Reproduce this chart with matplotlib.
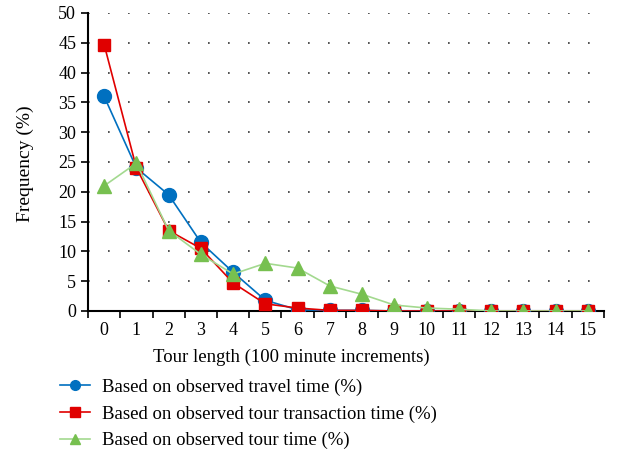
import matplotlib
matplotlib.use("Agg")
import matplotlib.pyplot as plt
import numpy as np

plt.rcParams['font.family'] = ['Liberation Serif', 'DejaVu Serif']

categories = list(range(16))
travel = [36, 24, 19.5, 11.5, 6.5, 1.8, 0.2, 0.1, 0.1, 0, 0, 0, 0, 0, 0, 0]
transaction = [44.7, 24, 13.5, 10.5, 4.7, 1.2, 0.5, 0.1, 0.1, 0, 0, 0, 0, 0, 0, 0]
tour = [21, 24.8, 13.5, 9.5, 6.2, 8, 7.2, 4.2, 2.8, 1, 0.5, 0.3, 0, 0, 0, 0]
labels = ["Based on observed travel time (%)",
          "Based on observed tour transaction time (%)",
          "Based on observed tour time (%)"]

fig = plt.figure(figsize=(6.2, 4.55), dpi=100)
ax = fig.add_axes([0.142, 0.3165, 0.832, 0.655])

x = np.arange(len(categories))
ax.plot(x, travel, color='#0070C0', marker='o', markersize=10, lw=1.2,
        label=labels[0], zorder=3)
ax.plot(x, transaction, color='#E00000', marker='s', markersize=9, lw=1.2,
        label=labels[1], zorder=4)
ax.plot(x, tour, color='#A3D98F', marker='^', markersize=10, lw=1.2,
        markerfacecolor='#77C050', markeredgecolor='#77C050',
        label=labels[2], zorder=5)

ax.set_xlim(-0.5, 15.5)
ax.set_ylim(0, 50)
ax.set_yticks(range(0, 51, 5))
ax.set_xticks(x)
ax.set_xticklabels([str(c) for c in categories])
ax.set_xticks(np.arange(-0.5, 16, 1), minor=True)
ax.tick_params(axis='x', which='major', length=0, labelsize=13, pad=8)
ax.tick_params(axis='x', which='minor', length=5, width=1.2, direction='out')
ax.tick_params(axis='y', length=5, width=1.2, direction='out', labelsize=13)

for s in ['top', 'right']:
    ax.spines[s].set_visible(False)
ax.spines['left'].set_linewidth(1.5)
ax.spines['bottom'].set_linewidth(1.5)

ax.yaxis.grid(True, linestyle=(0, (1, 11)), color='#333333', lw=1.2)
ax.set_axisbelow(True)

fig.text(25 / 620, 1 - 164 / 455, "Frequency (%)", fontsize=14,
         rotation=90, ha='center', va='center')
fig.text(291 / 620, 1 - 357 / 455, "Tour length (100 minute increments)",
         fontsize=13.5, ha='center', va='center')

leg = fig.legend(loc='upper left', bbox_to_anchor=(0.097, 0.168), frameon=False,
                 fontsize=13.5, handlelength=1.6, labelspacing=0.5,
                 borderaxespad=0, borderpad=0, handletextpad=0.65)
for h in leg.legend_handles:
    h.set_markersize(7)

fig.savefig("out.png", dpi=100)
